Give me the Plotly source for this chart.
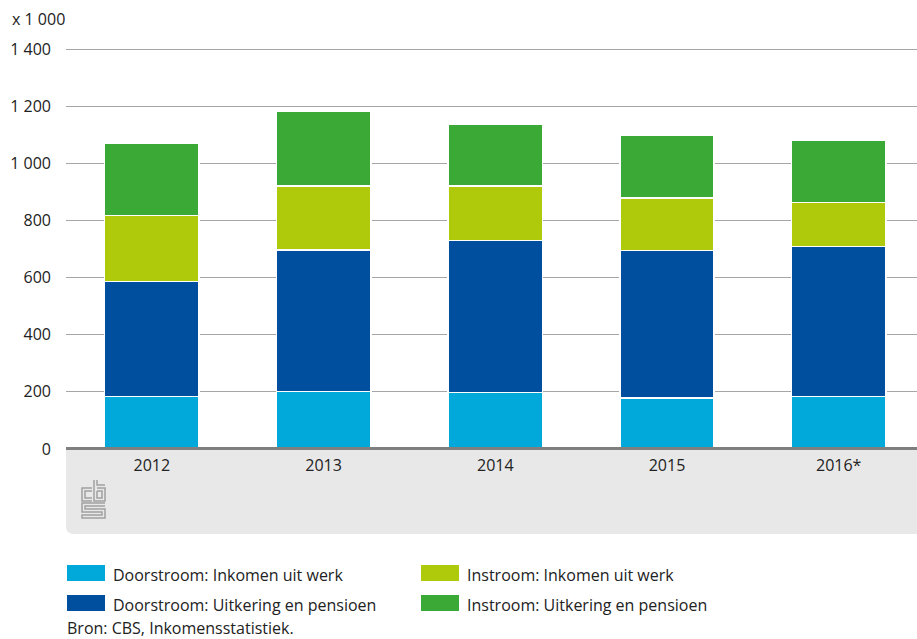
import plotly.graph_objects as go

jaren = ['2012', '2013', '2014', '2015', '2016*']
door_werk = [184, 201, 198, 179, 184]
door_uitk = [402, 495, 531, 515, 524]
in_werk = [231, 224, 191, 184, 154]
in_uitk = [253, 262, 218, 220, 220]

namen = ['Doorstroom: Inkomen uit werk', 'Doorstroom: Uitkering en pensioen',
         'Instroom: Inkomen uit werk', 'Instroom: Uitkering en pensioen']
kleuren = ['#00a9d9', '#004f9f', '#afca0b', '#3ba935']
reeksen = [door_werk, door_uitk, in_werk, in_uitk]

W, H = 917, 639
L, R, T, B = 66, 0, 47, 190
FONT = 'Open Sans'
TXT = '#222222'
FS = 16


def px(x):
    return (x - L) / (W - L - R)


def py(y):
    return (H - B - y) / (H - T - B)


fig = go.Figure()
for naam, kleur, waarden in zip(namen, kleuren, reeksen):
    fig.add_trace(go.Bar(x=jaren, y=waarden, name=naam, marker_color=kleur,
                         marker_line=dict(color='white', width=1.5), showlegend=False))

shapes = []
# grijze band onder de x-as, linksonder afgerond
x0, x1, y0, y1, r = px(66), px(917), py(449), py(534), 8
shapes.append(dict(type='path', xref='paper', yref='paper', layer='below',
                   path=f'M {x0},{y0} L {x1},{y0} L {x1},{y1} L {px(66 + r)},{y1} '
                        f'Q {x0},{y1} {x0},{py(534 - r)} Z',
                   fillcolor='#e8e8e8', line=dict(width=0)))
# x-as lijn
shapes.append(dict(type='line', xref='paper', yref='paper', x0=x0, x1=x1, y0=py(448.5), y1=py(448.5),
                   line=dict(color='#7f7f7f', width=3)))

# CBS logo (benadering)
logo = [
    [(92, 488), (82, 488), (82, 501), (92, 501)],
    [(92, 491), (85, 491), (85, 498), (92, 498)],
    [(94, 480), (94, 501), (105, 501), (105, 488), (97, 488)],
    [(97, 480), (97, 485), (105, 485)],
    [(97, 491), (102, 491), (102, 498), (97, 498), (97, 491)],
    [(105, 503), (82, 503), (82, 512), (102, 512), (102, 515), (82, 515), (82, 518), (105, 518), (105, 509), (85, 509), (85, 506), (105, 506)],
]
for pts in logo:
    p = 'M ' + ' L '.join(f'{px(a)},{py(b)}' for a, b in pts)
    shapes.append(dict(type='path', xref='paper', yref='paper', path=p,
                       line=dict(color='#a0a0a0', width=1.5)))

annotations = [
    dict(text='x 1 000', x=px(10), y=py(19), xref='paper', yref='paper', xanchor='left',
         yanchor='middle', showarrow=False, font=dict(family=FONT, size=FS, color=TXT)),
    dict(text='Bron: CBS, Inkomensstatistiek.', x=px(65), y=py(628), xref='paper', yref='paper',
         xanchor='left', yanchor='middle', showarrow=False, font=dict(family=FONT, size=FS, color=TXT)),
]

# legenda met eigen vlakken
legenda = [(0, 67, 573), (1, 67, 603), (2, 421, 573), (3, 421, 603)]
for i, lx, ly in legenda:
    shapes.append(dict(type='rect', xref='paper', yref='paper', x0=px(lx), x1=px(lx + 38),
                       y0=py(ly - 8), y1=py(ly + 8), fillcolor=kleuren[i], line=dict(width=0)))
    annotations.append(dict(text=namen[i], x=px(lx + 44), y=py(ly + 2), xref='paper', yref='paper',
                            xanchor='left', yanchor='middle', showarrow=False,
                            font=dict(family=FONT, size=FS, color=TXT)))

fig.update_layout(
    barmode='stack', bargap=0.45,
    width=W, height=H, margin=dict(l=L, r=R, t=T, b=B),
    paper_bgcolor='white', plot_bgcolor='white',
    separators=', ',
    font=dict(family=FONT, size=FS, color=TXT),
    shapes=shapes, annotations=annotations,
    # laatste categorie loopt net buiten beeld, zoals in het origineel
    xaxis=dict(range=[-0.5, 4.456], showgrid=False, showline=False, ticks='',
               tickfont=dict(size=FS, color=TXT), ticklabelstandoff=5),
    # iets boven 1400 zodat de bovenste rasterlijn zichtbaar blijft
    yaxis=dict(range=[0, 1407], tickvals=[0, 200, 400, 600, 800, 1000, 1200, 1400], tickformat=',',
               showgrid=True, gridcolor='#a6a6a6', gridwidth=1, zeroline=False, showline=False,
               ticks='', ticklabelstandoff=14, tickfont=dict(size=FS, color=TXT)),
)

fig.write_html('out.html', config={'displayModeBar': False},
               post_script="document.body.style.margin='0';document.body.style.overflow='hidden';")
